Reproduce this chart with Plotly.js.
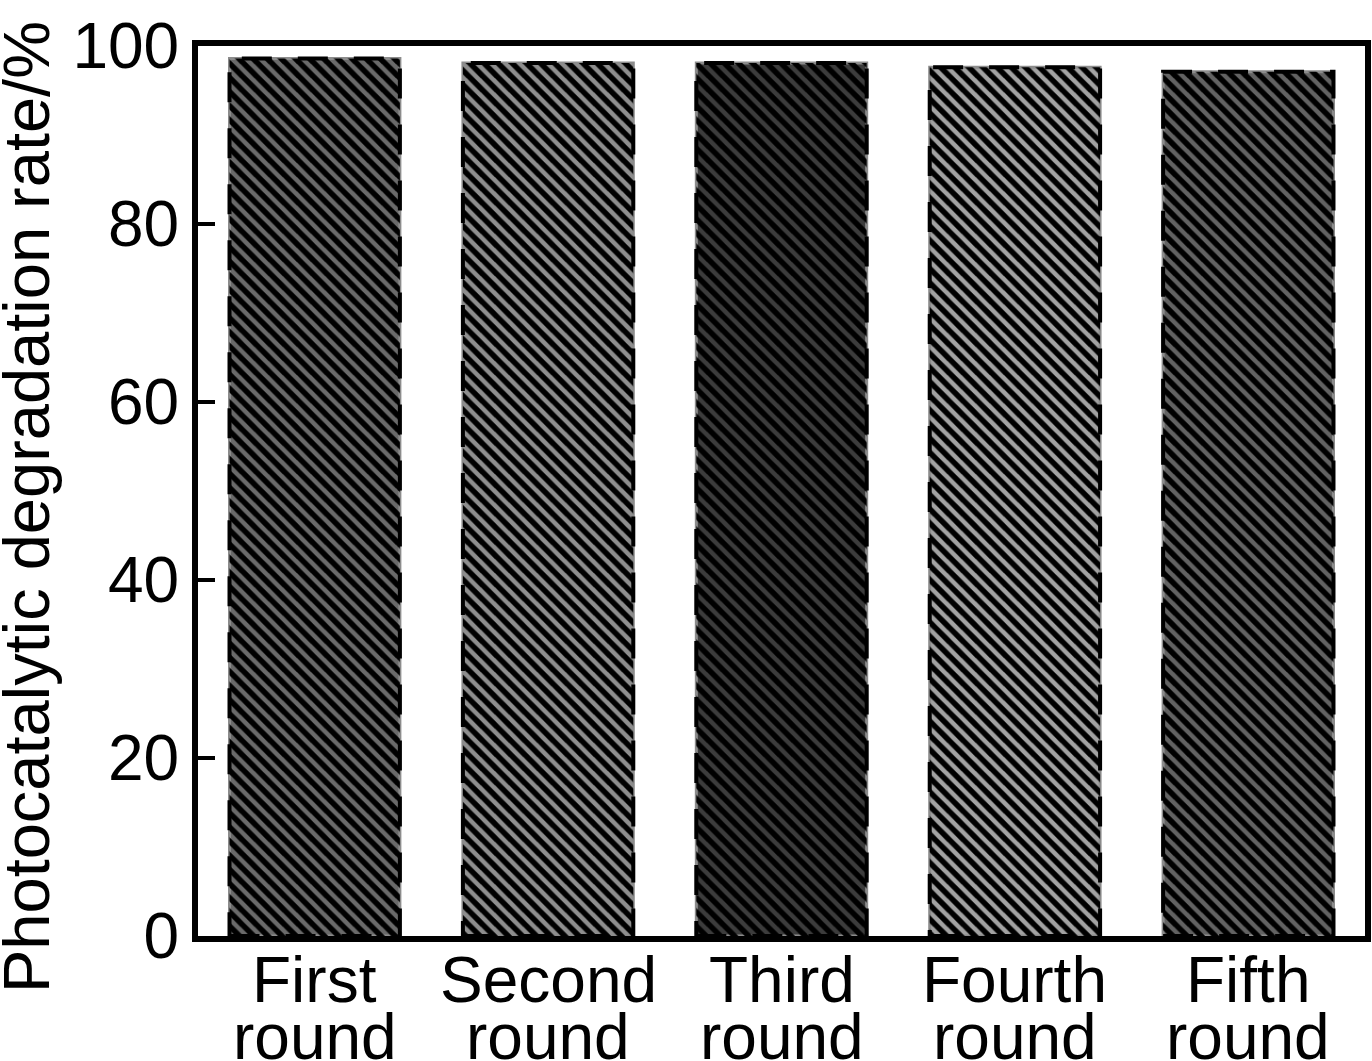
<!DOCTYPE html>
<html>
<head>
<meta charset="utf-8">
<script src="https://cdn.plot.ly/plotly-3.0.1.min.js"></script>
<style>html,body{margin:0;padding:0;background:#fff;}#chart{width:1372px;height:1061px;}</style>
</head>
<body>
<div id="chart"></div>
<script>
var categories = ["First round", "Second round", "Third round", "Fourth round", "Fifth round"];
var labelLine1 = ["First", "Second", "Third", "Fourth", "Fifth"];
var labelLine2 = ["round", "round", "round", "round", "round"];
var rates = [98.6, 98.1, 98.1, 97.6, 97.1];
var barBg = ["#6a6a6a", "#8e8e8e", "#3c3c3c", "#a2a2a2", "#626262"];
var yTicks = [0, 20, 40, 60, 80, 100];
var yTitle = "Photocatalytic degradation rate/%";

var idx = categories.map(function(_, i){ return i; });
var barWidth = 0.73;
var FONT = "Liberation Sans, Arial, sans-serif";
var FS = 64;

var baseTrace = {
  type: "bar", x: idx, y: rates, width: barWidth,
  marker: {color: barBg, line: {color: "#8c8c8c", width: 3}},
  hoverinfo: "x+y", showlegend: false
};
var hatchTrace = {
  type: "bar", x: idx, y: rates, width: barWidth,
  marker: {
    color: "rgba(0,0,0,0)",
    line: {width: 0},
    pattern: {shape: "\\", fgcolor: "#000000", bgcolor: "rgba(0,0,0,0)", size: 10, solidity: 0.55, fillmode: "replace"}
  },
  hoverinfo: "skip", showlegend: false
};

var shapes = rates.map(function(v, i){
  return {
    type: "rect", xref: "x", yref: "y",
    x0: i - barWidth/2, x1: i + barWidth/2, y0: 0, y1: v,
    line: {color: "#000000", width: 4, dash: "30px,26px"},
    fillcolor: "rgba(0,0,0,0)", layer: "above"
  };
});

var annotations = [];
labelLine1.forEach(function(t, i){
  annotations.push({text: t, x: i, xref: "x", y: 0, yref: "paper", yanchor: "top", xanchor: "center",
    yshift: -6, showarrow: false, font: {family: FONT, size: FS, color: "#000"}});
  annotations.push({text: labelLine2[i], x: i, xref: "x", y: 0, yref: "paper", yanchor: "top", xanchor: "center",
    yshift: -63, showarrow: false, font: {family: FONT, size: FS, color: "#000"}});
});
annotations.push({text: yTitle, textangle: -90, xref: "paper", x: 0, xanchor: "center", xshift: -172,
  yref: "paper", y: 0.482, yanchor: "middle", showarrow: false,
  font: {family: FONT, size: 65, color: "#000"}});

var layout = {
  width: 1372, height: 1061,
  margin: {l: 198, r: 7, t: 46, b: 125, pad: 0},
  paper_bgcolor: "#ffffff", plot_bgcolor: "#ffffff",
  font: {family: FONT, size: FS, color: "#000"},
  barmode: "overlay",
  bargap: 0.27,
  xaxis: {
    range: [-0.5, categories.length - 0.5],
    tickvals: idx, ticktext: categories, showticklabels: false,
    ticks: "", showgrid: false, zeroline: false,
    showline: true, linecolor: "#000", linewidth: 6, mirror: true, fixedrange: true
  },
  yaxis: {
    range: [0, 100], tickvals: yTicks, ticktext: yTicks.map(String),
    ticks: "inside", ticklen: 17, tickwidth: 4, tickcolor: "#000",
    ticklabelstandoff: 0,
    tickfont: {family: FONT, size: FS, color: "#000"},
    showgrid: false, zeroline: false,
    showline: true, linecolor: "#000", linewidth: 6, mirror: true,
    fixedrange: true
  },
  shapes: shapes,
  annotations: annotations
};

Plotly.newPlot("chart", [baseTrace, hatchTrace], layout, {displayModeBar: false, staticPlot: true});
</script>
</body>
</html>
